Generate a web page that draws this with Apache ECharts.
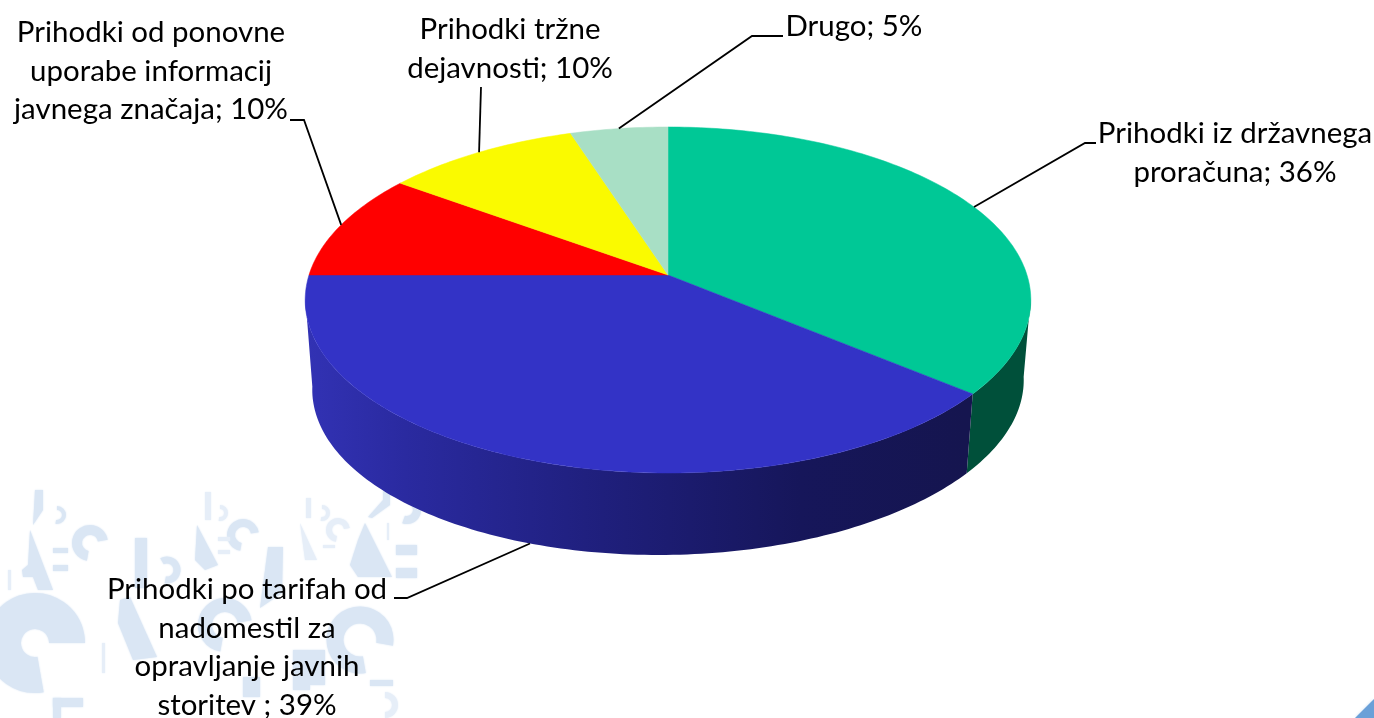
<!DOCTYPE html>
<html><head><meta charset="utf-8">
<style>html,body{margin:0;padding:0;background:#fff}#c{width:1374px;height:718px}</style>
<script src="https://cdn.jsdelivr.net/npm/echarts@6/dist/echarts.min.js"></script>
</head><body><div id="c"></div>
<script>
// ---- data ----
const categories = ['Prihodki iz državnega proračuna','Prihodki po tarifah od nadomestil za opravljanje javnih storitev','Prihodki od ponovne uporabe informacij javnega značaja','Prihodki tržne dejavnosti','Drugo'];
const shares = [36, 39, 10, 10, 5];
const labelLines = [
  ['Prihodki iz državnega','proračuna; 36%'],
  ['Prihodki po tarifah od','nadomestil za','opravljanje javnih','storitev ; 39%'],
  ['Prihodki od ponovne','uporabe informacij','javnega značaja; 10%'],
  ['Prihodki tržne','dejavnosti; 10%'],
  ['Drugo; 5%']
];
// ---- styles / layout ----
const topColors = ['#00C896','#3333C6','#FF0000','#FAFA00','#A8DFC5'];
const sideColors = ['#00503A','#15154F',null,null,null];
const labelAnchors = [[1235,134],[247,590],[151,33],[510,30],[854,27]];
const elbows = [[[1085,143],[1096,143]],[[407,598],[394,598]],[[304,120],[290,120]],[[481,87]],[[752,36],[783,36]]];
const FONT = '28px Lato, Carlito, sans-serif', LH = 38.7, TEXT_STRETCH = 1.052;
const CX = 668, K = 0.1445;
const TOP = {a:359, b:169.4, y:275, skew:0};
const BOT = {a:352, b:166.4, y:360.4, skew:0.0135};
const FRONT = [0.27, 0.73]; // part of the rim whose wall faces the viewer
const total = shares.reduce((a,b)=>a+b,0);
function project(d, frac){
  const t = frac*2*Math.PI, u = Math.sin(t), v = Math.cos(t), w = 1+K*v;
  const dx = d.a*u/w;
  return [CX+dx, d.y-d.b*v/w-d.skew*dx];
}
function arc(d, f0, f1){
  const n = Math.max(4,Math.ceil((f1-f0)*360)), pts=[];
  for(let i=0;i<=n;i++) pts.push(project(d,f0+(f1-f0)*i/n));
  return pts;
}
function span(i){
  let s=0; for(let j=0;j<i;j++) s+=shares[j];
  return [s/total,(s+shares[i])/total];
}
const blueGrad = {type:'linear',global:true,x:306,y:0,x2:965,y2:0,colorStops:[
  {offset:0,color:'#3232B4'},{offset:0.15,color:'#2A2AA0'},{offset:0.45,color:'#1F1F7C'},{offset:0.75,color:'#16165A'},{offset:1,color:'#15154F'}]};

// watermark (pale background picture)
const WM = '#DAE6F4', WL = '#E6EEF8';
function ring(cx,cy,r,w,a0,a1,c){c=c||WM;return {type:'arc',silent:true,z:0,shape:{cx,cy,r,startAngle:a0*Math.PI/180,endAngle:a1*Math.PI/180,clockwise:true},style:{stroke:c,lineWidth:w,fill:null,shadowBlur:2,shadowColor:c}};}
function bar(x,y,w,h,c){c=c||WM;return {type:'rect',silent:true,z:0,shape:{x,y,width:w,height:h},style:{fill:c,shadowBlur:2,shadowColor:c}};}
function poly(p,c){c=c||WM;return {type:'polygon',silent:true,z:0,shape:{points:p},style:{fill:c,shadowBlur:2,shadowColor:c}};}
const watermark = [
  poly([[35,490],[43,490],[43,510],[33,525]]), ring(57,515,7,4,-90,100),
  poly([[30,530],[53,590],[38,590],[33,577],[23,577],[22,570],[28,565]]),
  ring(90,543,13,10,100,350), bar(53,548,15,5), bar(53,565,15,6),
  ring(35,643,32,36,80,360), bar(53,698,30,9), bar(53,698,8,20),
  bar(135,538,12,50), ring(167,570,10,7,-120,100),
  poly([[120,600],[130,597],[157,657],[133,660],[118,623]]), bar(102,643,3,30,WL), bar(8,570,3,20,WL),
  bar(205,492,6,28,WL), ring(220,513,6,4,-90,100,WL),
  poly([[197,525],[218,565],[205,570],[195,560]]), ring(243,535,12,8,100,350), bar(218,537,12,4,WL), bar(218,550,12,4,WL),
  poly([[268,547],[283,547],[282,593],[260,608]]), bar(306,498,5,20,WL), ring(322,513,6,4,-90,100,WL),
  poly([[300,523],[317,560],[305,560]],WL), ring(338,530,9,6,100,350,WL), bar(323,545,12,3,WL),
  poly([[365,523],[392,577],[358,577],[350,565],[358,540]]),
  poly([[368,517],[383,500],[383,480],[390,480],[390,505],[372,518]]), ring(407,510,10,8,-90,110),
  bar(396,545,21,10), bar(396,568,21,10), bar(387,523,2,17,WL),
  ring(360,640,25,17,80,370), bar(310,650,15,35), bar(370,680,23,6), ring(385,705,10,6,-90,90,WL),
  ring(225,625,20,14,100,350), bar(243,677,17,20), bar(293,650,17,40)
];
const corner = {type:'polygon',silent:true,z:0,shape:{points:[[1374,699],[1374,718],[1355,718]]},style:{fill:'#6AA0D8',shadowBlur:3,shadowColor:'#CFE0F3'}};

const option = {
  animation:false, backgroundColor:'#ffffff',
  graphic:{elements:[...watermark,corner]},
  series:[
    {type:'custom',coordinateSystem:'none',z:2,data:shares,renderItem:(p)=>{
      const i=p.dataIndex,[s0,s1]=span(i);
      const a=Math.max(s0,FRONT[0]), b=Math.min(s1,FRONT[1]);
      if(b<=a) return null;
      const fill = i===1 ? blueGrad : sideColors[i];
      const pts = arc(TOP,a,b).concat(arc(BOT,a,b).reverse());
      return {type:'polygon',shape:{points:pts},style:{fill}};
    }},
    {type:'custom',coordinateSystem:'none',z:3,data:shares,renderItem:(p)=>{
      const [a,b]=span(p.dataIndex), c=topColors[p.dataIndex];
      const pts=[[CX,TOP.y]].concat(arc(TOP,a,b));
      return {type:'polygon',shape:{points:pts},style:{fill:c,stroke:c,lineWidth:0.5}};
    }},
    {type:'custom',coordinateSystem:'none',z:4,data:shares,renderItem:(p)=>{
      const i=p.dataIndex,[a,b]=span(i);
      const start=project(i===1?BOT:TOP,(a+b)/2);
      const children=[{type:'polyline',shape:{points:[start,...elbows[i]]},style:{stroke:'#000',lineWidth:1.8,fill:null}}];
      labelLines[i].forEach((t,k)=>children.push({type:'text',x:labelAnchors[i][0],y:labelAnchors[i][1]+k*LH,scaleX:TEXT_STRETCH,
        style:{text:t,font:FONT,fill:'#000',textAlign:'center',textVerticalAlign:'middle'}}));
      return {type:'group',children};
    }}
  ]
};
const chart = echarts.init(document.getElementById('c'),null,{renderer:'canvas'});
chart.setOption(option);
</script></body></html>
